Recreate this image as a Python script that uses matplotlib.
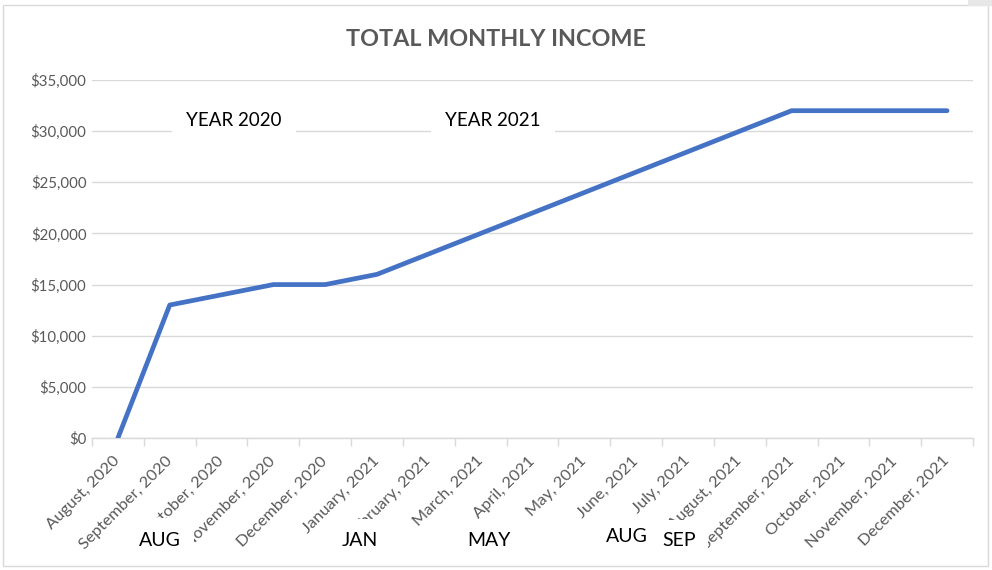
import matplotlib
matplotlib.use("Agg")
import matplotlib.pyplot as plt
from matplotlib.ticker import FuncFormatter, FixedLocator
from matplotlib.patches import Rectangle

plt.rcParams['font.family'] = ['Lato', 'DejaVu Sans']

months = ["August, 2020", "September, 2020", "October, 2020", "November, 2020",
          "December, 2020", "January, 2021", "February, 2021", "March, 2021",
          "April, 2021", "May, 2021", "June, 2021", "July, 2021", "August, 2021",
          "September, 2021", "October, 2021", "November, 2021", "December, 2021"]
income = [0, 13000, 14000, 15000, 15000, 16000, 18000, 20000, 22000, 24000,
          26000, 28000, 30000, 32000, 32000, 32000, 32000]
y_ticks = [0, 5000, 10000, 15000, 20000, 25000, 30000, 35000]
title = "TOTAL MONTHLY INCOME"
year_labels = ["YEAR 2020", "YEAR 2021"]
month_marks = ["AUG", "JAN", "MAY", "AUG", "SEP"]

W, H = 992, 570
fig = plt.figure(figsize=(W / 100, H / 100), dpi=100)
ax = fig.add_axes([92 / W, 1 - 438 / H, (973 - 92) / W, (438 - 80) / H])

x = list(range(len(months)))
ax.plot(x, income, color="#4472C4", lw=3.4, solid_capstyle="round", zorder=3)

ax.set_xlim(-0.5, len(months) - 0.5)
ax.set_ylim(0, 35000)
ax.set_yticks(y_ticks)
ax.yaxis.set_major_formatter(FuncFormatter(lambda v, p: f"${v:,.0f}"))
ax.grid(axis="y", color="#D9D9D9", lw=1.0)
ax.set_axisbelow(True)
for s in ["top", "right", "left"]:
    ax.spines[s].set_visible(False)
ax.spines["bottom"].set_color("#D9D9D9")
ax.spines["bottom"].set_linewidth(1.0)
ax.tick_params(axis="y", length=0, labelsize=10.8, labelcolor="#595959", pad=4)

ax.set_xticks(x)
ax.set_xticklabels(months, rotation=45, ha="right", va="center",
                   rotation_mode="anchor", fontsize=11.8, color="#595959")
ax.tick_params(axis="x", which="major", length=0, pad=15)
ax.xaxis.set_minor_locator(FixedLocator([i - 0.5 for i in range(len(months) + 1)]))
ax.tick_params(axis="x", which="minor", length=6, color="#D9D9D9", width=1)

fig.text(0.5, 1 - 39 / H, title, ha="center", va="center", fontsize=16.8,
         fontweight="bold", color="#595959")

ybox = dict(boxstyle="square,pad=0.75", fc="white", ec="none")
fig.text(234 / W, 1 - 120 / H, year_labels[0], ha="center", va="center",
         fontsize=13.5, color="black", bbox=ybox, zorder=5)
fig.text(493 / W, 1 - 120 / H, year_labels[1], ha="center", va="center",
         fontsize=13.5, color="black", bbox=ybox, zorder=5)

mark_pos = [(160, 540), (360, 540), (489, 540), (627, 537), (679, 541)]
mark_pad = [0.68, 0.62, 0.5, 0.5, 0.65]
for lab, (px, py), pd in zip(month_marks, mark_pos, mark_pad):
    fig.text(px / W, 1 - py / H, lab, ha="center", va="center", fontsize=14,
             color="black", zorder=5,
             bbox=dict(boxstyle=f"square,pad={pd}", fc="white", ec="none"))

fig.patches.append(Rectangle((3 / W, 1 - 566 / H), (988 - 3) / W, (566 - 5) / H,
                             transform=fig.transFigure, fill=False,
                             ec="#D9D9D9", lw=1.0, zorder=0))
fig.patches.append(Rectangle((968 / W, 1 - 6 / H), 24 / W, 6 / H,
                             transform=fig.transFigure, fc="#E7E7E7",
                             ec="none", zorder=0))

fig.savefig("out.png", dpi=100)
